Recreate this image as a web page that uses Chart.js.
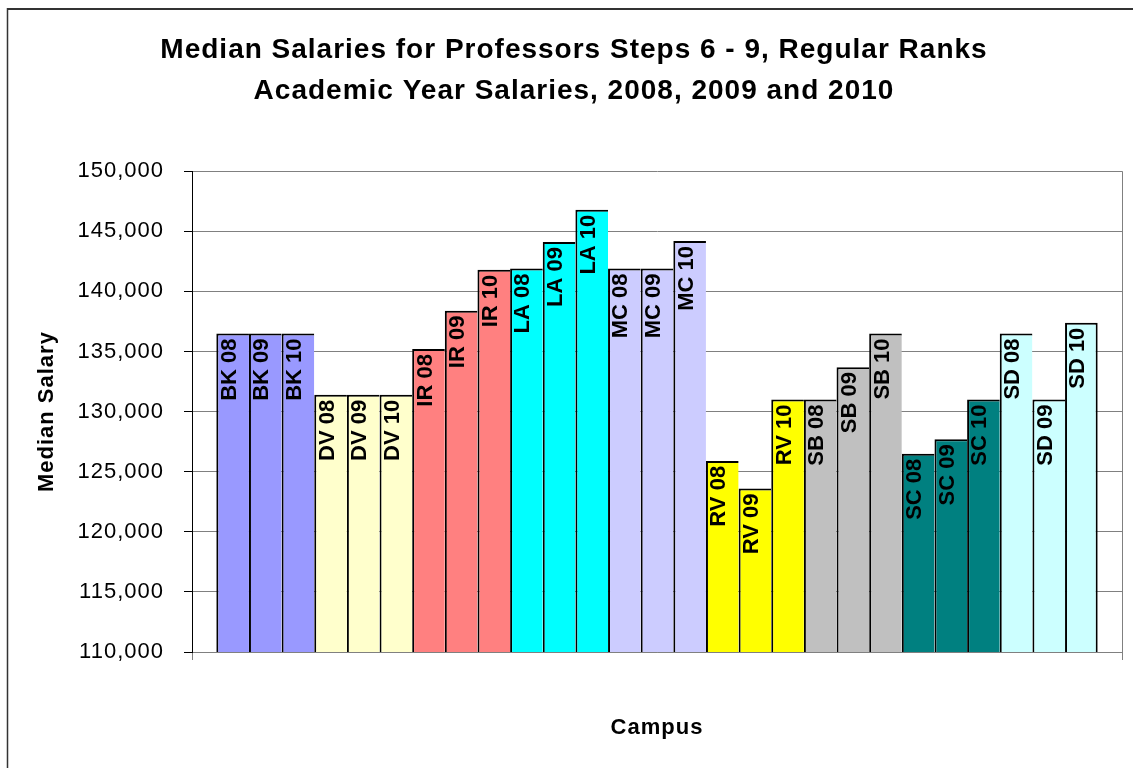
<!DOCTYPE html>
<html>
<head>
<meta charset="utf-8">
<script src="https://cdn.jsdelivr.net/npm/chart.js@4/dist/chart.umd.min.js"></script>
<style>
  html, body { margin: 0; padding: 0; background: #fff; }
  #c { display: block; }
</style>
</head>
<body>
<canvas id="c" width="1133" height="768"></canvas>
<script>
// ---- data ----
const campuses = ['BK', 'DV', 'IR', 'LA', 'MC', 'RV', 'SB', 'SC', 'SD'];
const years = ['08', '09', '10'];
const barLabels = [
  'BK 08', 'BK 09', 'BK 10',
  'DV 08', 'DV 09', 'DV 10',
  'IR 08', 'IR 09', 'IR 10',
  'LA 08', 'LA 09', 'LA 10',
  'MC 08', 'MC 09', 'MC 10',
  'RV 08', 'RV 09', 'RV 10',
  'SB 08', 'SB 09', 'SB 10',
  'SC 08', 'SC 09', 'SC 10',
  'SD 08', 'SD 09', 'SD 10'
];
const salaries = [
  136500, 136500, 136500,
  131400, 131400, 131400,
  135200, 138400, 141800,
  141900, 144100, 146800,
  141900, 141900, 144200,
  125900, 123600, 131000,
  131000, 133700, 136500,
  126500, 127700, 131000,
  136500, 131000, 137400
];
const campusColors = ['#9999FF', '#FFFFCC', '#FF8080', '#00FFFF', '#CCCCFF', '#FFFF00', '#C0C0C0', '#008080', '#CCFFFF'];
const titleLines = ['Median Salaries for Professors Steps 6 - 9, Regular Ranks', 'Academic Year Salaries, 2008, 2009 and 2010'];
const yAxisTitle = 'Median Salary';
const xAxisTitle = 'Campus';
const yMin = 110000, yMax = 150000, yStep = 5000;

const FONT = "'Liberation Sans', Arial, sans-serif";

const datasets = barLabels.map((lab, i) => ({
  label: lab,
  data: [salaries[i]],
  backgroundColor: campusColors[Math.floor(i / years.length)],
  borderColor: '#000000',
  borderWidth: { top: 2, left: 2, bottom: 1, right: i === barLabels.length - 1 ? 2 : 0 },
  borderSkipped: false,
  inflateAmount: 0,
  categoryPercentage: 0.9477,
  barPercentage: 1
}));

const frameAndSpacing = {
  id: 'frameAndSpacing',
  beforeDraw(chart) {
    const ctx = chart.ctx;
    ctx.save();
    ctx.fillStyle = '#ffffff';
    ctx.fillRect(0, 0, chart.width, chart.height);
    ctx.strokeStyle = '#333333';
    ctx.lineWidth = 2;
    ctx.beginPath();
    ctx.moveTo(7, 9); ctx.lineTo(chart.width + 5, 9);
    ctx.stroke();
    ctx.lineWidth = 1.5;
    ctx.beginPath();
    ctx.moveTo(7.5, 8); ctx.lineTo(7.5, chart.height + 5);
    ctx.stroke();
    ctx.restore();
    ctx.letterSpacing = '1px';
  }
};

const barText = {
  id: 'barText',
  afterDatasetsDraw(chart) {
    const ctx = chart.ctx;
    ctx.save();
    ctx.letterSpacing = '0px';
    ctx.font = 'bold 22px ' + FONT;
    ctx.fillStyle = '#000000';
    ctx.textAlign = 'right';
    ctx.textBaseline = 'middle';
    chart.data.datasets.forEach((ds, i) => {
      const el = chart.getDatasetMeta(i).data[0];
      if (!el) return;
      ctx.save();
      ctx.translate(el.x - 3, el.y + 5);
      ctx.rotate(-Math.PI / 2);
      ctx.fillText(ds.label, 0, 0);
      ctx.restore();
    });
    ctx.restore();
  }
};

new Chart(document.getElementById('c'), {
  type: 'bar',
  data: { labels: [''], datasets },
  options: {
    responsive: false,
    devicePixelRatio: 1,
    animation: false,
    layout: { padding: { left: 26, right: 11, top: 0, bottom: 0 } },
    plugins: {
      legend: { display: false },
      tooltip: { enabled: false },
      title: {
        display: true,
        text: titleLines,
        color: '#000000',
        font: { family: FONT, size: 28, weight: 'bold', lineHeight: 1.45 },
        padding: { top: 30, bottom: 60 }
      }
    },
    scales: {
      x: {
        offset: true,
        ticks: { display: false },
        grid: { display: true, offset: true, drawOnChartArea: true, color: '#808080', tickLength: 8, tickColor: '#808080' },
        border: { display: true, color: '#808080', width: 1 },
        title: {
          display: true, text: xAxisTitle, color: '#000000',
          font: { family: FONT, size: 22, weight: 'bold', lineHeight: 1.2 },
          padding: { top: 0, bottom: 27 }
        },
        afterFit(s) { s.height = 116; }
      },
      y: {
        min: yMin, max: yMax,
        ticks: {
          stepSize: yStep,
          color: '#000000',
          padding: 20,
          font: { family: FONT, size: 22 },
          callback: (v) => Number(v).toLocaleString('en-US')
        },
        grid: { color: '#808080', tickLength: 8, tickColor: '#000000' },
        border: { display: true, color: '#000000', width: 1 },
        title: {
          display: true, text: yAxisTitle, color: '#000000',
          font: { family: FONT, size: 22, weight: 'bold', lineHeight: 1.2 },
          padding: { top: 8, bottom: 0 }
        },
        afterFit(s) { s.width = 166; }
      }
    }
  },
  plugins: [frameAndSpacing, barText]
});
</script>
</body>
</html>
